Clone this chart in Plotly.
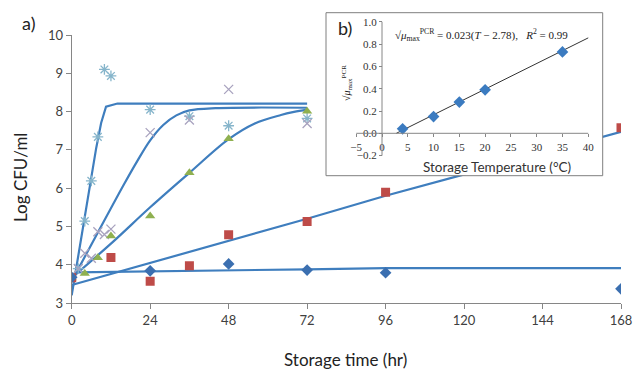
import plotly.graph_objects as go

# ---------------- data: panel a) ----------------
t_diamond = [0, 24, 48, 72, 96, 168]
y_diamond = [3.67, 3.84, 4.02, 3.86, 3.79, 3.37]

t_square = [0, 12, 24, 36, 48, 72, 96, 168]
y_square = [3.66, 4.19, 3.57, 3.97, 4.78, 5.13, 5.89, 7.58]

t_triangle = [0, 4, 8, 12, 24, 36, 48, 72]
y_triangle = [3.65, 3.77, 4.18, 4.75, 5.27, 6.40, 7.29, 8.01]

t_cross = [2, 4, 6, 8, 10, 12, 24, 36, 48, 72]
y_cross = [3.9, 4.30, 4.17, 4.86, 4.79, 4.93, 7.45, 7.78, 8.58, 7.69]

t_star = [2, 4, 6, 8, 10, 12, 24, 36, 48, 72]
y_star = [3.9, 5.14, 6.19, 7.34, 9.10, 8.93, 8.05, 7.88, 7.63, 7.82]

# fitted model curves
t_fit_a = [0, 1, 4, 6, 7.5, 9, 10.5, 14, 72]
y_fit_a = [3.2, 3.73, 5.25, 6.28, 7.05, 7.7, 8.13, 8.21, 8.21]

t_fit_b = [1, 8, 16, 20, 24, 28, 32, 36, 44, 72]
y_fit_b = [3.73, 4.84, 6.10, 6.70, 7.25, 7.65, 7.90, 8.03, 8.09, 8.10]

t_fit_c = [1, 12, 24, 36, 48, 56, 64, 68, 72]
y_fit_c = [3.73, 4.55, 5.50, 6.40, 7.28, 7.69, 7.91, 7.99, 8.05]

t_fit_d = [0, 24, 48, 72, 96, 120, 144, 168]
y_fit_d = [3.47, 4.04, 4.62, 5.20, 5.80, 6.35, 6.90, 7.47]

t_fit_e = [1, 24, 48, 72, 96, 168]
y_fit_e = [3.80, 3.82, 3.85, 3.88, 3.91, 3.91]

x_ticks_a = [0, 24, 48, 72, 96, 120, 144, 168]
y_ticks_a = [3, 4, 5, 6, 7, 8, 9, 10]

# ---------------- data: panel b) ----------------
temp_b = [4, 10, 15, 20, 35]
sqrt_mu_b = [0.04, 0.15, 0.28, 0.39, 0.73]
temp_fit = [2.78, 40]
sqrt_mu_fit = [0.0, 0.856]
x_ticks_b = [-5, 0, 5, 10, 15, 20, 25, 30, 35, 40]
y_ticks_b = [-0.2, 0.0, 0.2, 0.4, 0.6, 0.8, 1.0]

W, H = 639, 370
def px(x):
    return x / W
def py(y):
    return 1 - y / H

LINE = "#3F7EBE"
AX = "#868686"
SANS = "Lato, 'Open Sans', sans-serif"
SERIF = "'Liberation Serif', 'DejaVu Serif', serif"

fig = go.Figure()

for tx, ty, shp in [(t_fit_a, y_fit_a, "linear"), (t_fit_b, y_fit_b, "spline"),
                    (t_fit_c, y_fit_c, "spline"), (t_fit_d, y_fit_d, "linear"),
                    (t_fit_e, y_fit_e, "linear")]:
    fig.add_trace(go.Scatter(x=tx, y=ty, mode="lines", line=dict(color=LINE, width=2.2),
                             line_shape=shp, showlegend=False, hoverinfo="skip"))

fig.add_trace(go.Scatter(x=t_star, y=y_star, mode="markers", showlegend=False,
                         marker=dict(symbol="asterisk-open", size=9, color="#86B5CB",
                                     line=dict(color="#86B5CB", width=1.3))))
fig.add_trace(go.Scatter(x=t_cross, y=y_cross, mode="markers", showlegend=False,
                         marker=dict(symbol="x-thin-open", size=9, color="#A9A3BF",
                                     line=dict(color="#A9A3BF", width=1.3))))
fig.add_trace(go.Scatter(x=t_triangle, y=y_triangle, mode="markers", showlegend=False,
                         marker=dict(symbol="triangle-up", size=9, color="#8FB050")))
fig.add_trace(go.Scatter(x=t_square, y=y_square, mode="markers", showlegend=False,
                         marker=dict(symbol="square", size=9, color="#BE4B48")))
fig.add_trace(go.Scatter(x=t_diamond, y=y_diamond, mode="markers", showlegend=False,
                         marker=dict(symbol="diamond", size=9, color="#3B6FB0")))

# inset traces
fig.add_trace(go.Scatter(x=temp_fit, y=sqrt_mu_fit, mode="lines", xaxis="x2", yaxis="y2",
                         line=dict(color="#333333", width=1), showlegend=False))
fig.add_trace(go.Scatter(x=temp_b, y=sqrt_mu_b, mode="markers", xaxis="x2", yaxis="y2",
                         marker=dict(symbol="diamond", size=9, color="#3B7BC0"),
                         showlegend=False))

# inset geometry (pixels)
box_l, box_r, box_t, box_b = 326, 602.7, 12.7, 175.7
x0px, ppu_x = 382.0, 5.156      # px of T=0, px per degree
y0px, ppu_y = 133.3, 111.5      # px of value 0, px per unit
x2_range = [(box_l - x0px) / ppu_x, (box_r - x0px) / ppu_x]
y2_range = [-(box_b - y0px) / ppu_y, (y0px - box_t) / ppu_y]


def label(text, x, y, size, family=SANS, color="#222222", angle=0, xanchor="center"):
    return dict(text=text, xref="paper", yref="paper", x=px(x), y=py(y),
                xanchor=xanchor, yanchor="middle", textangle=angle, showarrow=False,
                font=dict(family=family, size=size, color=color))


fig.update_layout(
    width=W, height=H, autosize=False,
    margin=dict(l=0, r=0, t=0, b=0, pad=0, autoexpand=False),
    paper_bgcolor="white", plot_bgcolor="white",
    xaxis=dict(domain=[px(71.7), px(621)], range=[0, 168], tickvals=x_ticks_a,
               showgrid=False, zeroline=False, showline=True, linecolor=AX, linewidth=1,
               ticks="outside", ticklen=5, tickcolor=AX,
               tickfont=dict(family=SANS, size=13, color="#404040")),
    yaxis=dict(domain=[py(303), py(35)], range=[3, 10], tickvals=y_ticks_a,
               showgrid=False, zeroline=False, showline=True, linecolor=AX, linewidth=1,
               ticks="outside", ticklen=5, tickcolor=AX,
               tickfont=dict(family=SANS, size=13, color="#404040")),
    xaxis2=dict(domain=[px(box_l), px(box_r)], range=x2_range, anchor="free",
                position=py(y0px), tickvals=x_ticks_b, showgrid=False, zeroline=False,
                showline=False, ticks="outside", ticklen=3, tickcolor=AX,
                tickfont=dict(family=SERIF, size=11, color="#333333")),
    yaxis2=dict(domain=[py(box_b), py(box_t)], range=y2_range, anchor="free",
                position=px(x0px), tickvals=y_ticks_b, tickformat=".1f",
                showgrid=False, zeroline=False, showline=False, ticks="outside",
                ticklen=3, tickcolor=AX,
                tickfont=dict(family=SERIF, size=11, color="#333333")),
    shapes=[
        dict(type="line", xref="x2", yref="y2", x0=-5, x1=40, y0=0, y1=0,
             line=dict(color=AX, width=1), layer="above"),
        dict(type="line", xref="x2", yref="y2", x0=0, x1=0, y0=-0.2, y1=1.0,
             line=dict(color=AX, width=1), layer="above"),
        dict(type="rect", xref="paper", yref="paper", x0=px(box_l), x1=px(box_r),
             y0=py(box_b), y1=py(box_t), line=dict(color="#7F7F7F", width=1),
             fillcolor="rgba(0,0,0,0)", layer="above"),
    ],
    annotations=[
        label("a)", 28, 23, 18),
        label("Log CFU/ml", 20, 178, 17, angle=-90),
        label("Storage time (hr)", 345, 359, 17),
        label("b)", 345, 28, 18),
        label("√<i>μ</i><sub>max</sub><sup>PCR</sup> = 0.023(<i>T</i> − 2.78),   <i>R</i><sup>2</sup> = 0.99",
              393, 35, 11, family=SERIF, xanchor="left"),
        label("√<i>μ</i><sub>max</sub><sup>PCR</sup>", 347, 83, 10, family=SERIF, angle=-90),
        label("Storage Temperature (°C)", 497, 167, 13.5, color="#333333"),
    ],
)

fig.write_html("out.html", config={"displayModeBar": False},
               post_script="document.body.style.margin='0px';document.body.style.overflow='hidden';")
